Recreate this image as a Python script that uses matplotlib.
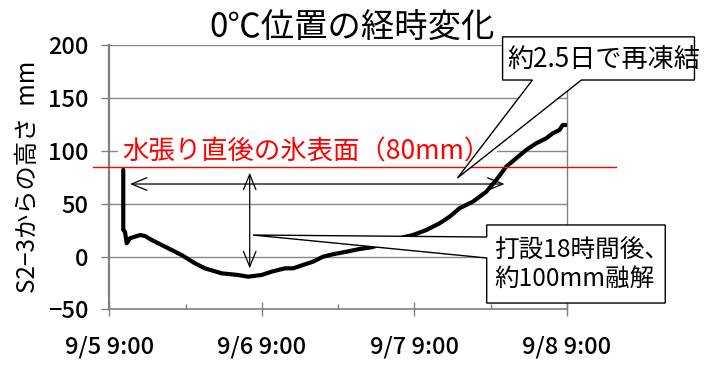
import matplotlib
matplotlib.use("Agg")
import matplotlib.pyplot as plt
from matplotlib.patches import Polygon, Rectangle

plt.rcParams['font.family'] = ['Noto Sans CJK JP', 'DejaVu Sans']

# elapsed hours since 9/5 9:00 and height of the 0 degC level (mm)
hours = [2.2, 2.2, 2.47, 2.74, 3.25, 4.04, 4.83, 5.61, 6.67, 8.76, 11.38, 13.47,
         15.04, 17.67, 20.28, 21.85, 23.96, 25.53, 27.62, 28.93, 30.5, 32.07,
         33.64, 35.21, 37.32, 39.41, 41.25, 42.55, 46.22, 47.79, 49.9, 51.99,
         53.56, 55.13, 57.22, 59.33, 60.9, 62.47, 64.04, 65.62, 67.19, 68.76,
         69.8, 70.85, 71.37, 71.9]
height = [82.0, 25.1, 23.5, 12.6, 17.3, 18.8, 20.4, 19.5, 15.7, 9.4, 1.5, -6.3,
          -11.1, -15.8, -17.4, -19.0, -17.4, -14.3, -11.1, -11.1, -7.9, -4.8,
          -0.1, 2.2, 4.6, 7.2, 8.8, 11.0, 18.2, 20.4, 25.1, 31.5,
          37.7, 45.7, 51.9, 61.3, 72.4, 85.0, 92.9, 100.8, 107.1, 111.8,
          116.5, 119.7, 124.4, 124.4]

x_ticks = [0, 24, 48, 72]
x_ticklabels = ["9/5 9:00", "9/6 9:00", "9/7 9:00", "9/8 9:00"]
x_minor = [12, 36, 60]
y_ticks = [-50, 0, 50, 100, 150, 200]
y_ticklabels = ["\u221250", "0", "50", "100", "150", "200"]

ice_surface = 84.7

fig = plt.figure(figsize=(7.12, 3.68), dpi=100)
ax = fig.add_axes([0.1535, 0.159, 0.796 - 0.1535, 0.8777 - 0.159])

ax.set_xlim(0, 72)
ax.set_ylim(-50, 200)

grid_c = "#888888"
for v in y_ticks[1:]:
    ax.axhline(v, color=grid_c, lw=1.0, zorder=1)

ax.spines["top"].set_visible(False)
ax.spines["left"].set_color("#808080")
ax.spines["left"].set_linewidth(1.6)
ax.spines["bottom"].set_color("#808080")
ax.spines["bottom"].set_linewidth(1.2)
ax.spines["right"].set_color("#808080")
ax.spines["right"].set_linewidth(1.0)

ax.set_xticks(x_ticks)
ax.set_xticklabels(x_ticklabels)
ax.set_xticks(x_minor, minor=True)
ax.tick_params(axis="x", which="major", direction="inout", length=9.5,
               color="#808080", width=1.0, pad=14, labelsize=17)
ax.tick_params(axis="x", which="minor", direction="in", length=3.6,
               color="#808080", width=1.0)
ax.set_yticks(y_ticks)
ax.set_yticklabels(y_ticklabels)
ax.tick_params(axis="y", direction="out", length=6, color="#808080",
               width=1.0, pad=9, labelsize=17)
for lab in ax.get_xticklabels() + ax.get_yticklabels():
    lab.set_fontweight(500)

ax.set_title("0\u2103位置の経時変化", fontsize=24, x=0.53, pad=3)
ax.set_ylabel("S2\u22123からの高さ  mm", fontsize=17.5, labelpad=5)

# temperature front trace
ax.plot(hours, height, color="black", lw=3.0, solid_joinstyle="round",
        solid_capstyle="round", zorder=4)

# ice surface right after flooding
ax.plot([-2.6, 79.8], [ice_surface, ice_surface], color="#ff0000", lw=1.0,
        clip_on=False, zorder=5)
ax.add_patch(Rectangle((1.4, 87), 59.6, 25, facecolor="white",
                       edgecolor="none", zorder=3))
ax.text(2.0, 99, "水張り直後の氷表面（80mm）", color="#ff0000", fontsize=19,
        ha="left", va="center", zorder=6)

# span arrows
arrow_kw = dict(arrowstyle="<->,head_length=1.1,head_width=0.45",
                color="black", lw=0.9, shrinkA=0, shrinkB=0)
ax.annotate("", xy=(3.25, 68.6), xytext=(62.2, 68.6), arrowprops=arrow_kw,
            zorder=6)
ax.annotate("", xy=(22.1, 79.3), xytext=(22.1, -11.1), arrowprops=arrow_kw,
            zorder=6)

# callout: refreezing
c1 = Polygon([(61.9, 207.7), (92.1, 207.7), (92.1, 166.9), (74.3, 166.9),
              (54.8, 74.3), (66.6, 166.9), (61.9, 166.9)], closed=True,
             facecolor="white", edgecolor="black", lw=1.0, clip_on=False,
             zorder=8)
ax.add_patch(c1)
ax.text(62.7, 186.5, "約2.5日で再凍結", fontsize=18.8, ha="left", va="center",
        zorder=9, clip_on=False)

# callout: melting after placement
c2 = Polygon([(59.4, 29.9), (87.5, 29.9), (87.5, -43.9), (59.4, -43.9),
              (59.4, -1.3), (22.6, 20.4), (59.4, 18.5)], closed=True,
             facecolor="white", edgecolor="black", lw=1.0, clip_on=False,
             zorder=8)
ax.add_patch(c2)
ax.text(60.6, -7.5, "打設18時間後、\n約100mm融解", fontsize=17.7, ha="left",
        va="center", linespacing=1.12, zorder=9, clip_on=False)

fig.savefig("out.png", dpi=100)
